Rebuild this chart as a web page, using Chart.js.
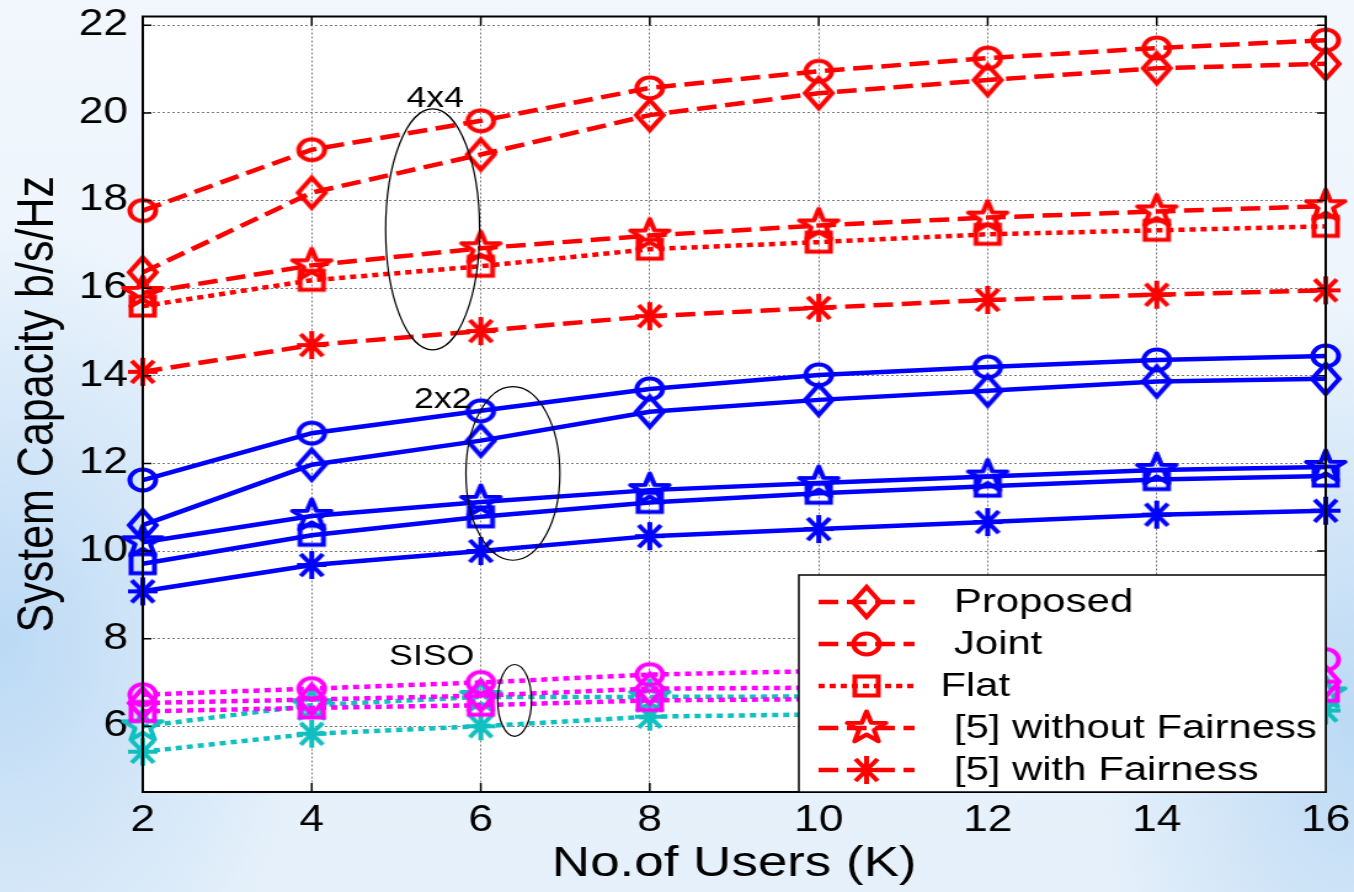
<!DOCTYPE html>
<html>
<head>
<meta charset="utf-8">
<script src="https://cdn.jsdelivr.net/npm/chart.js@4.4.1/dist/chart.umd.min.js"></script>
<style>
html, body { margin: 0; padding: 0; width: 1354px; height: 892px; overflow: hidden; }
body {
    background:
        radial-gradient(ellipse 320px 420px at 0px 640px, rgba(185, 216, 244, 0.95), rgba(185, 216, 244, 0)),
        radial-gradient(ellipse 260px 420px at 1354px 720px, rgba(185, 216, 244, 0.95), rgba(185, 216, 244, 0)),
        linear-gradient(180deg, #f1f7fd 0%, #e5f0fa 100%);
}
/* the original figure is stretched horizontally, so the chart is drawn narrow and scaled */
#wrap { position: absolute; left: 0; top: 0; width: 1100px; height: 892px; transform: scaleX(1.2309); transform-origin: 0 0; }
</style>
</head>
<body>
<div id="wrap"><canvas id="capacityChart"></canvas></div>
<script>
// Data
const users = [2, 4, 6, 8, 10, 12, 14, 16];
const yTicks = [6, 8, 10, 12, 14, 16, 18, 20, 22];

// 4x4
const proposed4 = [16.36, 18.18, 19.05, 19.95, 20.45, 20.75, 21.02, 21.12];
const joint4 = [17.77, 19.16, 19.82, 20.57, 20.95, 21.25, 21.48, 21.66];
const flat4 = [15.59, 16.18, 16.50, 16.89, 17.05, 17.23, 17.32, 17.41];
const noFair4 = [15.89, 16.52, 16.91, 17.20, 17.43, 17.61, 17.75, 17.87];
const fair4 = [14.09, 14.70, 15.02, 15.36, 15.55, 15.73, 15.85, 15.95];

// 2x2
const proposed2 = [10.59, 11.97, 12.52, 13.18, 13.45, 13.66, 13.87, 13.93];
const joint2 = [11.62, 12.69, 13.20, 13.70, 14.02, 14.20, 14.36, 14.45];
const flat2 = [9.71, 10.36, 10.78, 11.11, 11.32, 11.48, 11.63, 11.71];
const noFair2 = [10.20, 10.80, 11.12, 11.39, 11.55, 11.70, 11.85, 11.92];
const fair2 = [9.08, 9.68, 10.00, 10.34, 10.50, 10.66, 10.83, 10.92];

// SISO
const proposed1 = [6.53, 6.61, 6.70, 6.86, 6.88, 6.93, 6.98, 7.02];
const joint1 = [6.72, 6.86, 7.00, 7.18, 7.26, 7.35, 7.44, 7.52];
const flat1 = [6.34, 6.42, 6.48, 6.59, 6.62, 6.68, 6.74, 6.80];
const noFair1 = [6.00, 6.48, 6.67, 6.67, 6.68, 6.71, 6.73, 6.75];
const fair1 = [5.42, 5.83, 6.00, 6.22, 6.27, 6.30, 6.33, 6.36];

const legendLabels = ['Proposed', 'Joint', 'Flat', '[5] without Fairness', '[5] with Fairness'];

// Styles
const RED = '#ff0000';
const BLUE = '#0000ff';
const MAGENTA = '#ff00ff';
const CYAN = '#10bfbf';
const DASHED = [16, 7];
const DOTTED = [5, 4];
const FONT = "'Liberation Sans', Arial, sans-serif";

// MATLAB-like hollow markers drawn once on small canvases
function makeMarker(shape, color) {
    const c = document.createElement('canvas');
    c.width = 46;
    c.height = 46;
    const g = c.getContext('2d');
    g.strokeStyle = color;
    g.lineWidth = 4;
    g.translate(23, 23);
    g.beginPath();
    if (shape === 'circle') {
        g.arc(0, 0, 10.5, 0, Math.PI * 2);
    } else if (shape === 'diamond') {
        g.moveTo(0, -15); g.lineTo(11, 0); g.lineTo(0, 15); g.lineTo(-11, 0); g.closePath();
    } else if (shape === 'square') {
        g.rect(-9.5, -9.5, 19, 19);
    } else if (shape === 'star') {
        g.lineJoin = 'round';
        g.lineWidth = 4;
        for (let i = 0; i < 10; i++) {
            const r = i % 2 === 0 ? 16.5 : 6.5;
            const a = -Math.PI / 2 + i * Math.PI / 5;
            const px = Math.cos(a) * r, py = Math.sin(a) * r;
            if (i === 0) g.moveTo(px, py); else g.lineTo(px, py);
        }
        g.closePath();
    } else if (shape === 'asterisk') {
        g.lineWidth = 4;
        g.moveTo(-12, 0); g.lineTo(12, 0);
        g.moveTo(0, -14); g.lineTo(0, 14);
        g.moveTo(-9, -11); g.lineTo(9, 11);
        g.moveTo(9, -11); g.lineTo(-9, 11);
    }
    g.stroke();
    return c;
}

const seriesDefs = [
    { data: proposed4, color: RED, marker: 'diamond', dash: DASHED },
    { data: joint4, color: RED, marker: 'circle', dash: DASHED },
    { data: flat4, color: RED, marker: 'square', dash: DOTTED },
    { data: noFair4, color: RED, marker: 'star', dash: DASHED },
    { data: fair4, color: RED, marker: 'asterisk', dash: DASHED },
    { data: proposed2, color: BLUE, marker: 'diamond', dash: [] },
    { data: joint2, color: BLUE, marker: 'circle', dash: [] },
    { data: flat2, color: BLUE, marker: 'square', dash: [] },
    { data: noFair2, color: BLUE, marker: 'star', dash: [] },
    { data: fair2, color: BLUE, marker: 'asterisk', dash: [] },
    { data: proposed1, color: MAGENTA, marker: 'diamond', dash: DOTTED },
    { data: joint1, color: MAGENTA, marker: 'circle', dash: DOTTED },
    { data: flat1, color: MAGENTA, marker: 'square', dash: DOTTED },
    { data: noFair1, color: CYAN, marker: 'star', dash: DOTTED },
    { data: fair1, color: CYAN, marker: 'asterisk', dash: DOTTED }
];

const datasets = seriesDefs.map(s => ({
    data: users.map((k, i) => ({ x: k, y: s.data[i] })),
    borderColor: s.color,
    borderWidth: 4.5,
    borderDash: s.dash,
    borderCapStyle: 'butt',
    pointStyle: makeMarker(s.marker, s.color),
    pointRadius: 12,
    pointHoverRadius: 12,
    tension: 0,
    fill: false,
    clip: false
}));

// Group annotations (data coordinates)
const groupNotes = [
    { text: '4x4', tx: 5.46, ty: 20.32, cx: 5.43, cy: 17.34, rx: 0.556, ry: 2.75 },
    { text: '2x2', tx: 5.55, ty: 13.45, cx: 6.38, cy: 11.77, rx: 0.556, ry: 1.98 },
    { text: 'SISO', tx: 5.42, ty: 7.57, cx: 6.40, cy: 6.59, rx: 0.20, ry: 0.82 }
];

const paperPlugin = {
    id: 'paper',
    beforeDraw(chart) {
        const { ctx, chartArea: a } = chart;
        ctx.save();
        ctx.fillStyle = '#ffffff';
        ctx.fillRect(a.left, a.top, a.right - a.left, a.bottom - a.top);
        ctx.restore();
    },
    afterDatasetsDraw(chart) {
        const { ctx, chartArea: a, scales: { x, y } } = chart;
        ctx.save();

        // inward tick marks
        ctx.strokeStyle = '#000';
        ctx.lineWidth = 1.5;
        ctx.beginPath();
        yTicks.forEach(v => {
            const py = y.getPixelForValue(v);
            ctx.moveTo(a.left, py); ctx.lineTo(a.left + 7, py);
            ctx.moveTo(a.right, py); ctx.lineTo(a.right - 7, py);
        });
        users.forEach(v => {
            const px = x.getPixelForValue(v);
            ctx.moveTo(px, a.top); ctx.lineTo(px, a.top + 9);
            ctx.moveTo(px, a.bottom); ctx.lineTo(px, a.bottom - 9);
        });
        ctx.stroke();

        // axes box
        ctx.lineWidth = 2;
        ctx.strokeRect(a.left, a.top, a.right - a.left, a.bottom - a.top);

        // ellipses and group labels
        ctx.lineWidth = 1.2;
        ctx.fillStyle = '#000';
        ctx.font = `29px ${FONT}`;
        ctx.textAlign = 'center';
        ctx.textBaseline = 'middle';
        groupNotes.forEach(n => {
            const cx = x.getPixelForValue(n.cx), cy = y.getPixelForValue(n.cy);
            const rx = Math.abs(x.getPixelForValue(n.cx + n.rx) - cx);
            const ry = Math.abs(y.getPixelForValue(n.cy + n.ry) - cy);
            ctx.beginPath();
            ctx.ellipse(cx, cy, rx, ry, 0, 0, Math.PI * 2);
            ctx.stroke();
            ctx.fillText(n.text, x.getPixelForValue(n.tx), y.getPixelForValue(n.ty));
        });

        // legend box (only the red 4x4 series are listed)
        const box = { left: a.right - 428, top: a.bottom - 217, w: 428, h: 217 };
        ctx.fillStyle = '#fff';
        ctx.fillRect(box.left, box.top, box.w, box.h);
        ctx.strokeStyle = '#000';
        ctx.lineWidth = 1.5;
        ctx.strokeRect(box.left, box.top, box.w, box.h);
        const rowY = [602, 644, 686, 728, 770];
        ctx.font = `34px ${FONT}`;
        ctx.textAlign = 'left';
        legendLabels.forEach((label, i) => {
            const ds = chart.data.datasets[i];
            const ry = rowY[i];
            ctx.save();
            ctx.strokeStyle = ds.borderColor;
            ctx.lineWidth = 4.5;
            ctx.setLineDash(ds.borderDash);
            ctx.beginPath();
            ctx.moveTo(box.left + 16, ry);
            ctx.lineTo(box.left + 94, ry);
            ctx.stroke();
            ctx.restore();
            const m = ds.pointStyle;
            ctx.drawImage(m, box.left + 55 - m.width / 2, ry - m.height / 2);
            ctx.fillStyle = '#000';
            ctx.fillText(label, box.left + (i === 2 ? 115 : 126), ry + 1);
        });
        ctx.restore();
    }
};

const ctx = document.getElementById('capacityChart').getContext('2d');
new Chart(ctx, {
    type: 'line',
    data: { datasets: datasets },
    options: {
        responsive: true,
        maintainAspectRatio: false,
        animation: false,
        events: [],
        layout: { padding: { top: 13, right: 23, left: 0, bottom: 0 } },
        plugins: {
            legend: { display: false },
            tooltip: { enabled: false }
        },
        scales: {
            x: {
                type: 'linear',
                min: 2,
                max: 16,
                afterBuildTicks: scale => { scale.ticks = users.map(v => ({ value: v })); },
                afterFit: scale => {
                    scale.height = 100;
                    scale.paddingLeft = 0;
                    scale.paddingRight = 0;
                },
                grid: { color: '#7a7a7a', lineWidth: 1, drawTicks: false },
                border: { display: false, dash: [2, 2] },
                ticks: {
                    color: '#000',
                    padding: 7,
                    maxRotation: 0,
                    font: { family: FONT, size: 36 }
                },
                title: {
                    display: true,
                    text: 'No.of Users (K)',
                    color: '#000',
                    padding: { top: 0, bottom: 6 },
                    font: { family: FONT, size: 43, lineHeight: 1 }
                }
            },
            y: {
                min: 4.5,
                max: 22.2,
                afterBuildTicks: scale => { scale.ticks = yTicks.map(v => ({ value: v })); },
                afterFit: scale => {
                    scale.width = 116;
                    scale.paddingTop = 0;
                    scale.paddingBottom = 0;
                },
                grid: { color: '#7a7a7a', lineWidth: 1, drawTicks: false },
                border: { display: false, dash: [2, 2] },
                ticks: {
                    color: '#000',
                    padding: 12,
                    font: { family: FONT, size: 36 }
                },
                title: {
                    display: true,
                    text: 'System Capacity b/s/Hz',
                    color: '#000',
                    padding: { top: 10, bottom: 0 },
                    font: { family: FONT, size: 43, lineHeight: 1 }
                }
            }
        }
    },
    plugins: [paperPlugin]
});
</script>
</body>
</html>
